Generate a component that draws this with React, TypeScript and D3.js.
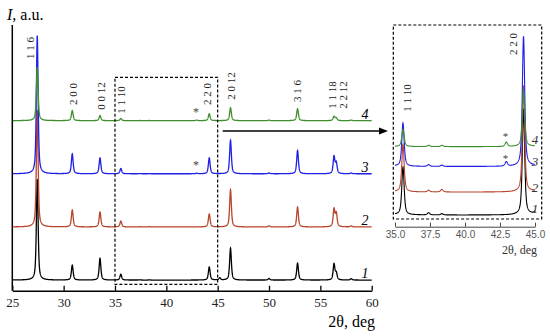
import React, { useEffect, useRef } from "react";
import * as d3 from "d3";

// 2θ of the reflections (deg)
const peakPositions = [27.43, 30.84, 33.54, 35.57, 37.4, 38.35, 42.95, 44.18, 45.2, 46.25, 50.0, 52.78, 56.33, 56.55, 58.0];
// peak heights (counts) of each sample, same order as peakPositions
const sample1 = [1900, 280, 410, 110, 5, 3, 0, 245, 40, 600, 30, 320, 300, 130, 25];
const sample2 = [2200, 320, 280, 110, 4, 6, 0, 245, 0, 700, 20, 375, 330, 250, 20];
const sample3 = [2600, 375, 300, 100, 4, 3, 10, 300, 0, 630, 15, 440, 320, 200, 15];
const sample4 = [1000, 190, 95, 40, 3, 3, 10, 130, 0, 245, 10, 225, 80, 50, 10];
const sampleNames = ["1", "2", "3", "4"];
const mainOffsets = [200, 1200, 2200, 3200];
const insetOffsets = [9, 62, 121, 167];

const mainTicks = [25, 30, 35, 40, 45, 50, 55, 60];
const insetTicks = [35, 37.5, 40, 42.5, 45];

const mainHkl = ["1 1 6", "2 0 0", "0 0 12", "1 1 10", "2 2 0", "2 0 12", "3 1 6", "1 1 18", "2 2 12"];
const mainHklAt = [26.75, 30.88, 33.6, 35.6, 43.95, 46.25, 52.75, 56.1, 57.2];
const insetHkl = ["1 1 10", "2 2 0"];
const insetHklAt = [35.85, 43.45];
const impurityAt = 42.9;

const colors = ["#000000", "#b8452b", "#1f1fe6", "#3f8f2f"];
const serif = '"Liberation Serif", "Times New Roman", serif';

const pv = (d: number) => {
  const w = 0.1;
  const l = (w * w) / (d * d + w * w);
  const g = Math.exp(-Math.LN2 * (d * d) / (w * w));
  return 0.6 * l + 0.4 * g;
};

const App = () => {
  const ref = useRef<SVGSVGElement>(null);

  useEffect(() => {
    document.body.style.margin = "0";
    const svg = d3.select(ref.current);
    svg.selectAll("*").remove();

    const samples = [sample1, sample2, sample3, sample4];
    const calc = (heights: number[], offset: number, t: number) => {
      let s = offset;
      peakPositions.forEach((p, i) => {
        s += heights[i] * pv(t - p);
      });
      return s;
    };

    // ---------- main chart
    const x = d3.scaleLinear().domain([25, 60]).range([12.3, 371.7]);
    const y = d3.scaleLinear().domain([0, 5000]).range([290.7, 25]);
    const grid = d3.range(25, 60.0001, 0.01);

    const main = svg.append("g");
    samples.forEach((h, k) => {
      const line = d3.line<number>()
        .x((t) => x(t))
        .y((t) => y(calc(h, mainOffsets[k], t)));
      main.append("path")
        .attr("d", line(grid))
        .attr("fill", "none")
        .attr("stroke", colors[k])
        .attr("stroke-width", 1.3);
    });

    // axes
    const ax = main.append("g")
      .attr("transform", `translate(0,${y(0)})`)
      .call(d3.axisBottom(x).tickValues(mainTicks).tickSize(-5).tickSizeOuter(0).tickPadding(7).tickFormat(d3.format("d")));
    ax.select(".domain").attr("stroke-width", 1.5);
    ax.selectAll(".tick line").attr("stroke-width", 1.3);
    ax.selectAll("text").attr("font-family", serif).attr("font-size", 13).attr("fill", "#222");
    main.append("line")
      .attr("x1", x(25)).attr("x2", x(25))
      .attr("y1", 25).attr("y2", y(0))
      .attr("stroke", "black").attr("stroke-width", 1.5);

    const yl = main.append("text")
      .attr("x", 7).attr("y", 20)
      .attr("font-family", serif).attr("font-size", 16);
    yl.append("tspan").attr("font-style", "italic").text("I");
    yl.append("tspan").text(", a.u.");
    main.append("text")
      .attr("x", 375).attr("y", 327)
      .attr("text-anchor", "end")
      .attr("font-family", serif).attr("font-size", 16)
      .text("2θ, deg");

    // hkl labels
    const hklY = [48, 94, 96, 100, 94, 86, 91, 95, 95];
    mainHkl.forEach((s, i) => {
      main.append("text")
        .attr("transform", `translate(${x(mainHklAt[i])},${hklY[i]}) rotate(-90)`)
        .attr("text-anchor", "middle")
        .attr("dominant-baseline", "central")
        .attr("font-family", serif).attr("font-size", 11)
        .attr("fill", "#222")
        .text(s);
    });
    [116, 169].forEach((yy) => {
      main.append("text")
        .attr("x", x(impurityAt)).attr("y", yy)
        .attr("text-anchor", "middle")
        .attr("font-family", serif).attr("font-size", 12)
        .attr("fill", "#444")
        .text("*");
    });
    sampleNames.forEach((n, k) => {
      main.append("text")
        .attr("x", 365).attr("y", y(mainOffsets[k]) - 2)
        .attr("text-anchor", "middle")
        .attr("font-family", serif).attr("font-size", 14)
        .attr("font-style", "italic")
        .text(n);
    });

    // zoom box + arrow
    main.append("rect")
      .attr("x", x(35)).attr("y", 77.3)
      .attr("width", x(45) - x(35)).attr("height", 207)
      .attr("fill", "none").attr("stroke", "black")
      .attr("stroke-width", 1.2).attr("stroke-dasharray", "3,2");
    main.append("line")
      .attr("x1", 222.7).attr("x2", 380)
      .attr("y1", 131).attr("y2", 131)
      .attr("stroke", "black").attr("stroke-width", 1.3);
    main.append("path")
      .attr("d", "M388,131 L379,127.5 L379,134.5 Z")
      .attr("fill", "black");

    // ---------- inset
    const xi = d3.scaleLinear().domain([35, 45]).range([395, 535]);
    const yi = d3.scaleLinear().domain([0, 448]).range([219, 25]);
    const gridI = d3.range(35, 45.0001, 0.01);

    svg.append("clipPath").attr("id", "insetClip")
      .append("rect").attr("x", 393).attr("y", 25).attr("width", 149).attr("height", 194);

    const inset = svg.append("g");
    const curves = inset.append("g").attr("clip-path", "url(#insetClip)");
    samples.forEach((h, k) => {
      const line = d3.line<number>()
        .x((t) => xi(t))
        .y((t) => yi(calc(h, insetOffsets[k], t)));
      curves.append("path")
        .attr("d", line(gridI))
        .attr("fill", "none")
        .attr("stroke", colors[k])
        .attr("stroke-width", 1.1);
    });
    inset.append("rect")
      .attr("x", 393.3).attr("y", 25)
      .attr("width", 148.4).attr("height", 194)
      .attr("fill", "none").attr("stroke", "black")
      .attr("stroke-width", 1.2).attr("stroke-dasharray", "3,2");

    const iax = inset.append("g")
      .attr("transform", "translate(0,226.7)")
      .call(d3.axisBottom(xi).tickValues(insetTicks).tickSize(-4).tickSizeOuter(0).tickPadding(4).tickFormat(d3.format(".1f")));
    iax.select(".domain").attr("stroke", "#444");
    iax.selectAll(".tick line").attr("stroke", "#444");
    iax.selectAll("text").attr("font-family", '"Liberation Sans", Arial, sans-serif').attr("font-size", 10).attr("fill", "#555");
    inset.append("text")
      .attr("x", 537).attr("y", 254)
      .attr("text-anchor", "end")
      .attr("font-family", serif).attr("font-size", 12)
      .attr("fill", "#333")
      .text("2θ, deg");

    const insetHklY = [98, 44];
    insetHkl.forEach((s, i) => {
      inset.append("text")
        .attr("transform", `translate(${xi(insetHklAt[i])},${insetHklY[i]}) rotate(-90)`)
        .attr("text-anchor", "middle")
        .attr("dominant-baseline", "central")
        .attr("font-family", serif).attr("font-size", 11)
        .attr("fill", "#222")
        .text(s);
    });
    [140, 162].forEach((yy) => {
      inset.append("text")
        .attr("x", xi(impurityAt)).attr("y", yy)
        .attr("text-anchor", "middle")
        .attr("font-family", serif).attr("font-size", 11)
        .attr("fill", "#444")
        .text("*");
    });
    const insetNameY = [208, 187, 161, 139];
    sampleNames.forEach((n, k) => {
      inset.append("text")
        .attr("x", 535).attr("y", insetNameY[k])
        .attr("text-anchor", "middle")
        .attr("dominant-baseline", "central")
        .attr("font-family", serif).attr("font-size", 13)
        .attr("font-style", "italic")
        .attr("fill", "#333")
        .text(n);
    });
  }, []);

  return (
    <svg
      ref={ref}
      width={550}
      height={336}
      style={{ position: "absolute", left: 0, top: 0, background: "white" }}
    />
  );
};

export default App;
